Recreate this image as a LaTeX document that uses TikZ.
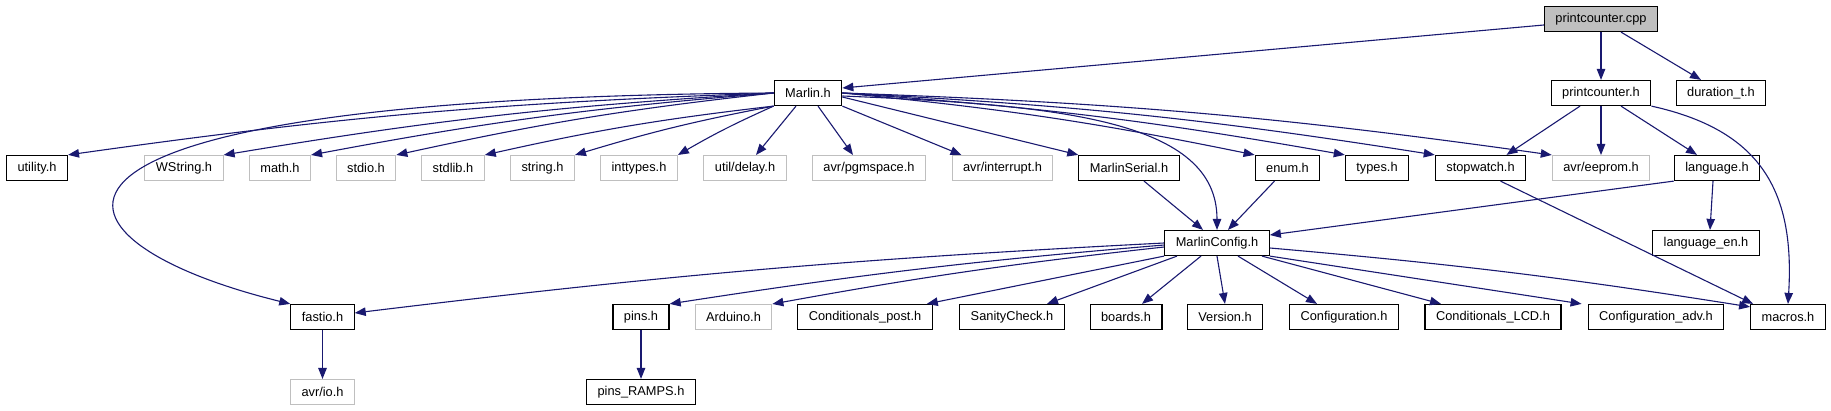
\documentclass[tikz,border=0pt]{standalone}
\usepackage{fontspec}
\setmainfont{Liberation Sans}
\usetikzlibrary{arrows.meta}
\definecolor{edgeblue}{HTML}{191970}
\definecolor{sysgray}{HTML}{BFBFBF}

\begin{document}
\begin{tikzpicture}[x=1pt,y=-1pt,
  file/.style={draw=black,line width=1.2pt,fill=white,inner xsep=11pt,inner ysep=0pt,
    minimum height=25pt,font=\fontsize{12.8pt}{15pt}\selectfont},
  sysfile/.style={file,draw=sysgray,line width=1pt},
  dep/.style={draw=edgeblue,line width=1.1pt,-{Triangle[length=11pt,width=8.5pt]}}]
\useasboundingbox (0,0) rectangle (1831,411);
% top rows
\node[file,fill=sysgray] (pcpp) at (1601,19) {printcounter.cpp};
\node[file] (marlin) at (808,93) {Marlin.h};
\node[file] (pch) at (1601,93) {printcounter.h};
\node[file] (duration) at (1721,93) {duration\_t.h};
% headers included by Marlin.h
\node[file] (utility) at (37,168) {utility.h};
\foreach \name/\x/\label in {
  wstring/184/WString.h,
  math/280/math.h,
  stdio/366/stdio.h,
  stdlib/453/stdlib.h,
  string/542.5/string.h,
  inttypes/639/inttypes.h,
  delay/745/{util/delay.h},
  pgmspace/869/{avr/pgmspace.h},
  interrupt/1002.5/{avr/interrupt.h},
  eeprom/1601/{avr/eeprom.h}
} {
  \node[sysfile] (\name) at (\x,168) {\label};
}
\node[file] (serial) at (1129,168) {MarlinSerial.h};
\node[file] (enum) at (1287.5,168) {enum.h};
\node[file] (types) at (1377,168) {types.h};
\node[file] (stopwatch) at (1480.5,168) {stopwatch.h};
\node[file] (language) at (1717,168) {language.h};
\node[file] (config) at (1217,243) {MarlinConfig.h};
\node[file] (languageen) at (1706,243) {language\_en.h};
% headers included by MarlinConfig.h
\node[file] (fastio) at (322.5,317) {fastio.h};
\node[file] (pins) at (641,317) {pins.h};
\node[sysfile] (arduino) at (733.5,317) {Arduino.h};
\node[file] (condpost) at (865,317) {Conditionals\_post.h};
\node[file] (sanity) at (1012,317) {SanityCheck.h};
\node[file] (boards) at (1126,317) {boards.h};
\node[file] (version) at (1225,317) {Version.h};
\node[file] (configuration) at (1344,317) {Configuration.h};
\node[file] (condlcd) at (1493,317) {Conditionals\_LCD.h};
\node[file] (configadv) at (1656,317) {Configuration\_adv.h};
\node[file] (macros) at (1788,317) {macros.h};
\node[sysfile] (avrio) at (322.5,392) {avr/io.h};
\node[file] (ramps) at (641,392) {pins\_RAMPS.h};

% printcounter.cpp
\draw[dep] ([yshift=-6pt]pcpp.west) -- ([yshift=5pt]marlin.east);
\draw[dep] (pcpp) -- (pch);
\draw[dep] ([xshift=20pt]pcpp.south) -- ([xshift=-20pt]duration.north);
% Marlin.h
\foreach \t in {utility,wstring,math,stdio} {
  \draw[dep] (marlin.west) to[bend right=3] (\t.north east);
}
\foreach \t in {stdlib,string,inttypes} {
  \draw[dep] (marlin.south west) to[bend right=3] (\t.north east);
}
\draw[dep] ([xshift=-12pt]marlin.south) -- ([xshift=11pt]delay.north);
\draw[dep] ([xshift=10pt]marlin.south) -- ([xshift=-16pt]pgmspace.north);
\draw[dep] (marlin.south east) -- ([xshift=10pt]interrupt.north west);
\draw[dep] ([yshift=-4pt]marlin.east) -- (serial.north west);
\foreach \t in {enum,types,stopwatch,eeprom} {
  \draw[dep] (marlin.east) to[bend left=3] (\t.north west);
}
\draw[dep] (marlin.west) .. controls (-35,98) and (30,240) .. (fastio.north west);
\draw[dep] ([yshift=-3pt]marlin.east) .. controls (1060,105) and (1217,120) .. (config.north);
% printcounter.h
\draw[dep] ([xshift=-21pt]pch.south) -- ([xshift=26pt]stopwatch.north);
\draw[dep] (pch) -- (eeprom);
\draw[dep] ([xshift=20pt]pch.south) -- ([xshift=-20pt]language.north);
\draw[dep] (pch.south east) .. controls (1760,130) and (1795,190) .. (macros.north);
% second level
\draw[dep] ([xshift=15pt]serial.south) -- ([xshift=-14pt]config.north);
\draw[dep] ([xshift=-13pt]enum.south) -- ([xshift=11pt]config.north);
\draw[dep] (language.south west) -- ([yshift=8pt]config.east);
\draw[dep] ([xshift=-4pt]language.south) -- ([xshift=4pt]languageen.north);
\draw[dep] ([xshift=20pt]stopwatch.south) -- ([xshift=3pt]macros.north west);
% MarlinConfig.h
\draw[dep] (config.west) to[bend right=2] ([yshift=4pt]fastio.east);
\draw[dep] ([yshift=-2pt]config.west) to[bend right=2] (pins.north east);
\draw[dep] ([yshift=-4pt]config.west) to[bend right=2] (arduino.north east);
\draw[dep] (config.south west) -- ([xshift=-6pt]condpost.north east);
\draw[dep] ([xshift=-40pt]config.south) -- ([xshift=35pt]sanity.north);
\draw[dep] ([xshift=-16pt]config.south) -- ([xshift=16pt]boards.north);
\draw[dep] (config.south) -- (version.north);
\draw[dep] ([xshift=21pt]config.south) -- ([xshift=-27pt]configuration.north);
\draw[dep] ([xshift=45pt]config.south) -- ([xshift=-52pt]condlcd.north);
\draw[dep] (config.south east) -- ([xshift=-6pt]configadv.north west);
\draw[dep] ([yshift=-5pt]config.east) to[bend left=2] ([yshift=-3pt]macros.north west);
% leaves
\draw[dep] (fastio) -- (avrio);
\draw[dep] (pins) -- (ramps);
\end{tikzpicture}
\end{document}
